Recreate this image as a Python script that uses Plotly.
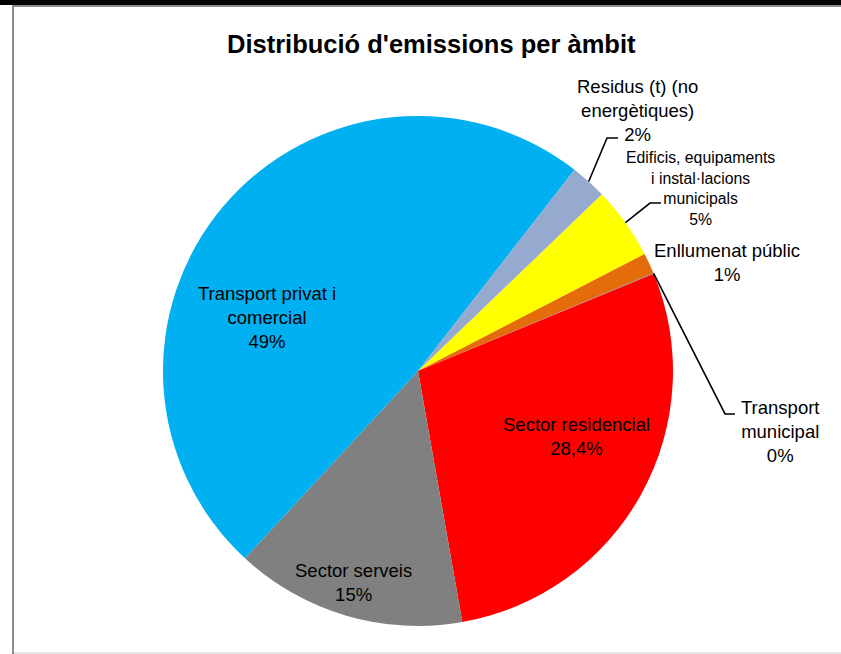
import math
import plotly.graph_objects as go

# ---- data ----
labels = ["Edificis, equipaments i instal·lacions municipals", "Enllumenat públic",
          "Transport municipal", "Sector residencial", "Sector serveis",
          "Transport privat i comercial", "Residus (t) (no energètiques)"]
values = [4.6, 1.31, 0.04, 28.45, 14.65, 48.65, 2.3]
pct_text = ["5%", "1%", "0%", "28,4%", "15%", "49%", "2%"]
colors = ["#FFFF00", "#E46C0A", "#7F7F7F", "#FF0000", "#808080", "#00B0F0", "#95AACE"]
label_lines = ["Edificis, equipaments<br>i instal·lacions<br>municipals",
               "Enllumenat públic", "Transport<br>municipal", "Sector residencial",
               "Sector serveis", "Transport privat i<br>comercial", "Residus (t) (no<br>energètiques)"]

W, H = 841, 654
CX, CY, R = 418, 371, 255
ROT = 46.15


def px(x):
    return x / W


def py(y):
    return 1 - y / H


fig = go.Figure(go.Pie(
    labels=labels, values=values, sort=False, direction="clockwise", rotation=ROT,
    marker=dict(colors=colors, line=dict(width=0)),
    textinfo="none", hoverinfo="label+percent", showlegend=False,
    domain=dict(x=[px(CX - R), px(CX + R)], y=[py(CY + R), py(CY - R)]),
))

# slice mid-angles (degrees clockwise from 12 o'clock), derived from the values
total = sum(values)
mid = []
acc = 0.0
for v in values:
    mid.append(ROT + (acc + v / 2) / total * 360)
    acc += v


def edge(i, r=R):
    a = math.radians(mid[i])
    return CX + r * math.sin(a), CY - r * math.cos(a)


# label placements (text centres, pixels) and sizes
label_pos = {0: (700, 188, 15.8), 1: (727, 262, 18.5), 2: (780, 431, 18.5),
             3: (576, 436, 18.5), 4: (353, 582, 18.5), 5: (267, 317, 18.5),
             6: (637, 111, 18.5)}

ann = []
for i, (x, y, fs) in label_pos.items():
    ann.append(dict(x=px(x), y=py(y), xref="paper", yref="paper", showarrow=False,
                    text=label_lines[i] + "<br>" + pct_text[i],
                    font=dict(family="Liberation Sans, Arial", size=fs, color="#000000"),
                    align="center", xanchor="center", yanchor="middle"))

ann.append(dict(x=px(431), y=py(44), xref="paper", yref="paper", showarrow=False,
                text="<b>Distribució d'emissions per àmbit</b>",
                font=dict(family="Liberation Sans, Arial", size=25.5, color="#000000"),
                xanchor="center", yanchor="middle"))

shapes = []
# leader lines: start on the slice edge, elbow, short horizontal
leaders = {6: [(607, 138), (618, 138)], 0: [(650, 203), (661, 203)],
           2: [(725, 414), (735, 414)]}
for i, pts in leaders.items():
    sx, sy = edge(i)
    path = "M {:.4f},{:.4f}".format(px(sx), py(sy))
    for (x, y) in pts:
        path += " L {:.4f},{:.4f}".format(px(x), py(y))
    shapes.append(dict(type="path", path=path, xref="paper", yref="paper",
                       line=dict(color="#000000", width=1.6)))

# frame
shapes.append(dict(type="rect", xref="paper", yref="paper", x0=0, x1=1,
                   y0=py(5), y1=1, fillcolor="#000000", line=dict(width=0)))
shapes.append(dict(type="rect", xref="paper", yref="paper", x0=px(12), x1=1,
                   y0=py(7), y1=py(5), fillcolor="#8C8C8C", line=dict(width=0)))
shapes.append(dict(type="rect", xref="paper", yref="paper", x0=px(12), x1=px(14),
                   y0=0, y1=py(5), fillcolor="#8C8C8C", line=dict(width=0)))
shapes.append(dict(type="rect", xref="paper", yref="paper", x0=px(14), x1=1,
                   y0=0, y1=py(652), fillcolor="#E6E6E6", line=dict(width=0)))

fig.update_layout(width=W, height=H, margin=dict(l=0, r=0, t=0, b=0),
                  paper_bgcolor="#FFFFFF", plot_bgcolor="#FFFFFF",
                  annotations=ann, shapes=shapes)

fig.write_html("out.html", config={"displayModeBar": False},
               post_script="document.body.style.margin='0';document.body.style.overflow='hidden';")
